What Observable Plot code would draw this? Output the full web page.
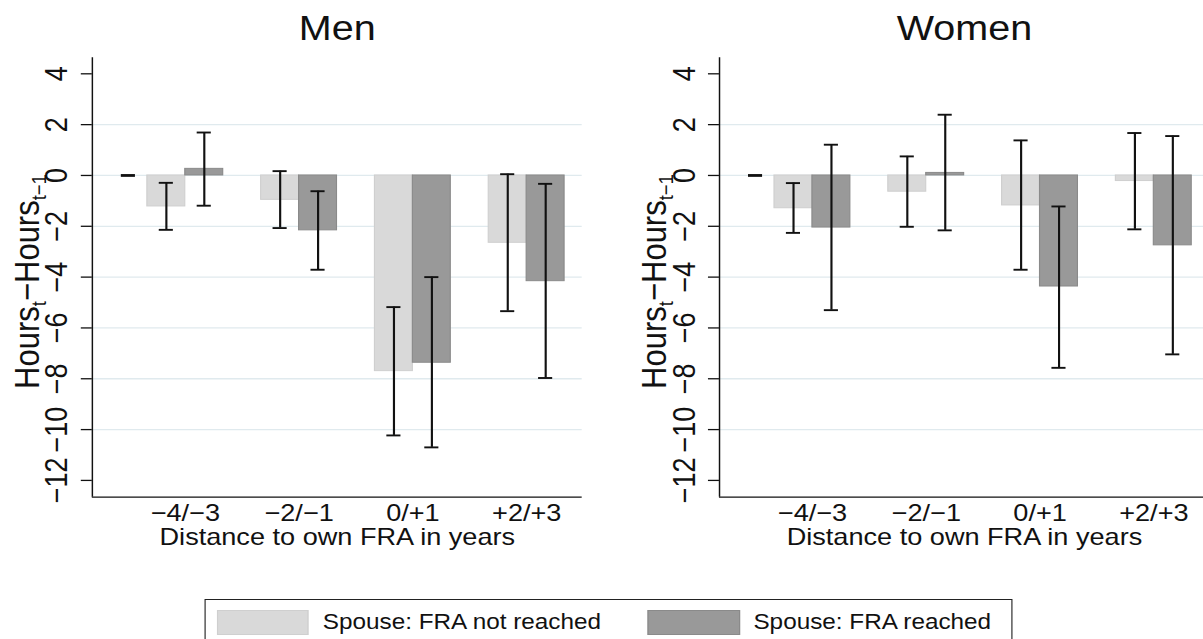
<!DOCTYPE html>
<html>
<head>
<meta charset="utf-8">
<script src="https://cdn.jsdelivr.net/npm/d3@7"></script>
<script src="https://cdn.jsdelivr.net/npm/@observablehq/plot@0.6"></script>
<style>
  html, body { margin: 0; padding: 0; background: #fff; overflow: hidden; width: 1203px; height: 639px; }
  #fig { position: relative; transform-origin: 0 0; font-family: "Liberation Sans", Arial, Helvetica, sans-serif; }
  .panel { position: absolute; top: 0; }
  #legend { position: absolute; border: 1px solid #222; box-sizing: border-box; background: #fff; }
  .sw { position: absolute; box-sizing: border-box; }
  .lt { position: absolute; white-space: nowrap; color: #111; line-height: 1; }
</style>
</head>
<body>
<div id="fig"></div>
<script>
// ---------------- data ----------------
const groups = ["\u22124/\u22123", "\u22122/\u22121", "0/+1", "+2/+3"];
const seriesNames = ["Spouse: FRA not reached", "Spouse: FRA reached"];
const panelTitles = ["Men", "Women"];
const xTitle = "Distance to own FRA in years";
const yTitleParts = [["Hours", false], ["t", true], ["\u2212Hours", false], ["t\u22121", true]];
const yTicks = [-12, -10, -8, -6, -4, -2, 0, 2, 4];
const gridTicks = [-10, -8, -6, -4, -2, 0, 2];
const refValue = 0;

// Men
const menNotReached   = [-1.22, -0.96, -7.70, -2.65];
const menNotReachedLo = [-2.14, -2.07, -10.23, -5.34];
const menNotReachedHi = [-0.29, 0.17, -5.18, 0.05];
const menReached      = [0.26, -2.16, -7.37, -4.16];
const menReachedLo    = [-1.19, -3.71, -10.70, -7.97];
const menReachedHi    = [1.69, -0.62, -4.00, -0.33];
// Women
const womenNotReached   = [-1.29, -0.64, -1.18, -0.22];
const womenNotReachedLo = [-2.26, -2.02, -3.71, -2.12];
const womenNotReachedHi = [-0.30, 0.75, 1.38, 1.67];
const womenReached      = [-2.05, 0.10, -4.37, -2.75];
const womenReachedLo    = [-5.30, -2.16, -7.57, -7.04];
const womenReachedHi    = [1.21, 2.39, -1.22, 1.55];

// ---------------- style / layout ----------------
const k = 1.13;                 // horizontal stretch of the original figure
const S = v => v / k;
const colLight = "#d9d9d9", colLightStroke = "#cfcfcf";
const colDark = "#999999", colDarkStroke = "#8a8a8a";
const gridColor = "#e0eaee";
const barW = 1 / 3, capHalf = 0.062, refPos = 0.5;
const xDomain = [0.183, 4.488];
const yDomain = [-12.66, 4.63];
const fmtY = d => d < 0 ? "\u2212" + Math.abs(d) : String(d);
const yTitlePlain = yTitleParts.map(p => p[0]).join("");

function buildRows(nv, nlo, nhi, rv, rlo, rhi) {
  const rows = [];
  groups.forEach((g, i) => {
    rows.push({pos: i + 1, s: 0, value: nv[i], lo: nlo[i], hi: nhi[i]});
    rows.push({pos: i + 1, s: 1, value: rv[i], lo: rlo[i], hi: rhi[i]});
  });
  return rows;
}
const left = d => d.s === 0 ? d.pos - barW : d.pos;
const right = d => d.s === 0 ? d.pos : d.pos + barW;
const mid = d => d.s === 0 ? d.pos - barW / 2 : d.pos + barW / 2;

function makePanel(title, rows) {
  const svg = Plot.plot({
    width: S(600), height: 590,
    marginLeft: S(91.8), marginRight: S(18.3), marginTop: 57.3, marginBottom: 93.3,
    style: {fontFamily: "'Liberation Sans', Arial, Helvetica, sans-serif", fontSize: "24px", background: "transparent", overflow: "visible", color: "#111"},
    x: {type: "linear", domain: xDomain},
    y: {domain: yDomain},
    marks: [
      Plot.gridY(gridTicks, {stroke: gridColor, strokeOpacity: 1, strokeWidth: 1.3}),
      Plot.rect(rows.filter(d => d.s === 0), {x1: left, x2: right, y1: 0, y2: "value", fill: colLight, stroke: colLightStroke, strokeWidth: 1}),
      Plot.rect(rows.filter(d => d.s === 1), {x1: left, x2: right, y1: 0, y2: "value", fill: colDark, stroke: colDarkStroke, strokeWidth: 1}),
      Plot.ruleX(rows, {x: mid, y1: "lo", y2: "hi", stroke: "#111", strokeWidth: 1.9}),
      Plot.ruleY(rows, {y: "lo", x1: d => mid(d) - capHalf, x2: d => mid(d) + capHalf, stroke: "#111", strokeWidth: 1.9}),
      Plot.ruleY(rows, {y: "hi", x1: d => mid(d) - capHalf, x2: d => mid(d) + capHalf, stroke: "#111", strokeWidth: 1.9}),
      Plot.ruleY([refValue], {y: d => d, x1: () => refPos - capHalf, x2: () => refPos + capHalf, stroke: "#111", strokeWidth: 2.8}),
      Plot.ruleX([xDomain[0]], {stroke: "#111", strokeWidth: 1.3}),
      Plot.ruleY([yDomain[0]], {stroke: "#111", strokeWidth: 1.3}),
      Plot.axisY(yTicks, {tickSize: S(11), tickPadding: 21, tickRotate: -90, textAnchor: "middle", lineAnchor: "middle", tickFormat: fmtY, fontSize: 27, stroke: "#111", strokeWidth: 1.3, label: null}),
      Plot.axisX([1, 2, 3, 4], {tickSize: 0, tickPadding: 7, tickFormat: d => groups[d - 1], fontSize: 24, label: null}),
      Plot.text([xTitle], {frameAnchor: "bottom", dy: 40, lineAnchor: "middle", fontSize: 24, text: d => d}),
      Plot.text([title], {frameAnchor: "top", dy: -28.9, lineAnchor: "middle", fontSize: 35, text: d => d}),
      Plot.text([yTitlePlain], {frameAnchor: "left", dx: S(38.3) - S(91.8), dy: 4, rotate: -90, textAnchor: "middle", lineAnchor: "bottom", fontSize: 31, text: d => d})
    ]
  });
  // subscripts in the y-axis title
  d3.select(svg).selectAll("text").filter(function() { return this.textContent === yTitlePlain; }).each(function() {
    const t = d3.select(this);
    t.text(null);
    let shifted = false;
    yTitleParts.forEach(([txt, sub]) => {
      const ts = t.append("tspan").text(txt);
      if (sub) { ts.attr("font-size", 18.5).attr("dy", shifted ? null : 6); shifted = true; }
      else if (shifted) { ts.attr("dy", -6); shifted = false; }
    });
  });
  return svg;
}

const fig = document.getElementById("fig");
fig.style.width = S(1240) + "px";
fig.style.height = "639px";
fig.style.transform = `scaleX(${k})`;

const p1 = document.createElement("div"); p1.className = "panel"; p1.style.left = "0px";
p1.appendChild(makePanel(panelTitles[0], buildRows(menNotReached, menNotReachedLo, menNotReachedHi, menReached, menReachedLo, menReachedHi)));
const p2 = document.createElement("div"); p2.className = "panel"; p2.style.left = S(627) + "px";
p2.appendChild(makePanel(panelTitles[1], buildRows(womenNotReached, womenNotReachedLo, womenNotReachedHi, womenReached, womenReachedLo, womenReachedHi)));
fig.appendChild(p1); fig.appendChild(p2);

// legend (below the plots)
const lg = document.createElement("div"); lg.id = "legend";
const L0 = 205;
lg.style.left = S(L0) + "px"; lg.style.top = "599px";
lg.style.width = S(1012.3 - L0) + "px"; lg.style.height = "60px";
const items = [
  {sx: 215.7, sw: 92, tx: 321.7, fill: colLight, stroke: colLightStroke},
  {sx: 646.7, sw: 92.3, tx: 752.3, fill: colDark, stroke: colDarkStroke}
];
items.forEach((it, i) => {
  const sw = document.createElement("div"); sw.className = "sw";
  sw.style.left = S(it.sx - L0) + "px"; sw.style.top = "9.5px";
  sw.style.width = S(it.sw) + "px"; sw.style.height = "25px";
  sw.style.background = it.fill; sw.style.border = `1px solid ${it.stroke}`;
  lg.appendChild(sw);
  const tx = document.createElement("div"); tx.className = "lt";
  tx.style.left = S(it.tx - L0) + "px"; tx.style.top = "11.5px";
  tx.style.fontSize = "21.5px";
  tx.textContent = seriesNames[i];
  lg.appendChild(tx);
});
fig.appendChild(lg);
</script>
</body>
</html>
